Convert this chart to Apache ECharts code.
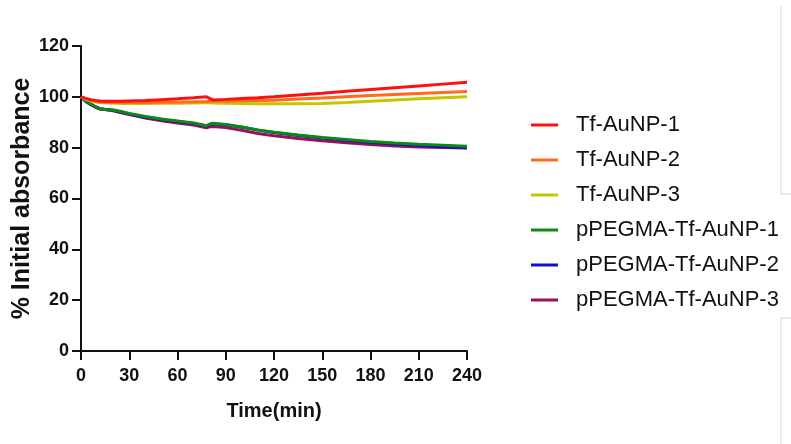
<!DOCTYPE html>
<html>
<head>
<meta charset="utf-8">
<script src="https://cdn.jsdelivr.net/npm/echarts@6/dist/echarts.min.js"></script>
<style>
  html, body { margin: 0; padding: 0; background: #fff; }
  #chart { width: 791px; height: 444px; }
</style>
</head>
<body>
<div id="chart"></div>
<script>
// time points (min)
var times = [0, 3, 6, 9, 12, 15, 20, 25, 30, 40, 50, 60, 70, 78, 80, 82, 90, 100, 110, 120, 135, 150, 165, 180, 195, 210, 225, 240];

var tfAuNP1 = [100, 99.4, 98.9, 98.6, 98.4, 98.3, 98.3, 98.3, 98.4, 98.6, 98.9, 99.2, 99.6, 100, 99.4, 98.8, 99, 99.3, 99.6, 100, 100.7, 101.4, 102.2, 102.9, 103.6, 104.3, 105, 105.7];
var tfAuNP2 = [100, 99.2, 98.6, 98.3, 98, 97.9, 97.8, 97.8, 97.8, 97.8, 97.9, 98, 98.1, 98.2, 98.3, 98.4, 98.4, 98.5, 98.6, 98.7, 99.1, 99.5, 100, 100.5, 100.9, 101.3, 101.7, 102.1];
var tfAuNP3 = [100, 99, 98.4, 98, 97.8, 97.7, 97.5, 97.4, 97.4, 97.4, 97.5, 97.5, 97.6, 97.7, 97.8, 97.6, 97.5, 97.4, 97.3, 97.3, 97.3, 97.4, 97.8, 98.3, 98.8, 99.2, 99.6, 100];
var pegma1 = [100, 98.5, 97.2, 96.2, 95.2, 95, 94.8, 94.2, 93.5, 92.3, 91.3, 90.5, 89.7, 88.6, 89.3, 89.6, 89.1, 88.1, 87, 86.1, 85, 84, 83.2, 82.4, 81.8, 81.3, 81, 80.6];
var pegma2 = [100, 98.2, 97, 96, 95.3, 95, 94.7, 94, 93.3, 92.1, 91.1, 90.3, 89.5, 88.5, 89.1, 89.4, 89, 88, 86.9, 86, 84.8, 83.8, 82.9, 82.1, 81.4, 80.9, 80.4, 80];
var pegma3 = [100, 98.3, 97, 96, 95.2, 95, 94.5, 93.7, 93, 91.7, 90.6, 89.7, 88.9, 87.8, 88.2, 88.3, 87.9, 86.8, 85.6, 84.7, 83.6, 82.7, 81.9, 81.2, 80.7, 80.3, 80.1, 79.9];

var names = ['Tf-AuNP-1', 'Tf-AuNP-2', 'Tf-AuNP-3', 'pPEGMA-Tf-AuNP-1', 'pPEGMA-Tf-AuNP-2', 'pPEGMA-Tf-AuNP-3'];
var colors = ['#ff1010', '#ff6a1c', '#c8c400', '#0d8a12', '#1010c8', '#9a0f5e'];
var values = [tfAuNP1, tfAuNP2, tfAuNP3, pegma1, pegma2, pegma3];
var zOrder = [12, 11, 10, 9, 8, 7];

var font = 'Liberation Sans, Arial, sans-serif';
var chart = echarts.init(document.getElementById('chart'));

var series = names.map(function (n, i) {
  return {
    name: n,
    type: 'line',
    symbol: 'none',
    z: zOrder[i],
    lineStyle: { width: 3, color: colors[i] },
    itemStyle: { color: colors[i] },
    data: times.map(function (t, k) { return [t, values[i][k]]; })
  };
});

var option = {
  backgroundColor: '#fff',
  animation: false,
  grid: { left: 81, right: 324, top: 46, bottom: 93 },
  legend: {
    orient: 'vertical',
    left: 526,
    top: 109,
    itemWidth: 27,
    itemHeight: 3,
    itemGap: 13,
    icon: 'rect',
    data: names,
    textStyle: {
      fontFamily: font,
      fontSize: 22,
      color: '#111',
      padding: [0, 0, 0, 13]
    }
  },
  xAxis: {
    type: 'value',
    min: 0,
    max: 240,
    interval: 30,
    name: 'Time(min)',
    nameLocation: 'middle',
    nameGap: 50,
    nameTextStyle: { fontFamily: font, fontSize: 20, fontWeight: 'bold', color: '#111' },
    axisLine: { lineStyle: { color: '#111', width: 2 } },
    axisTick: { show: true, length: 9, lineStyle: { color: '#111', width: 2 } },
    axisLabel: { margin: 16, fontFamily: font, fontSize: 18, fontWeight: 'bold', color: '#111' },
    splitLine: { show: false }
  },
  yAxis: {
    type: 'value',
    min: 0,
    max: 120,
    interval: 20,
    name: '% Initial absorbance',
    nameLocation: 'middle',
    nameRotate: 90,
    nameGap: 44,
    nameTextStyle: { fontFamily: font, fontSize: 25, fontWeight: 'bold', color: '#111' },
    axisLine: { show: true, lineStyle: { color: '#111', width: 2 } },
    axisTick: { show: true, length: 9, lineStyle: { color: '#111', width: 2 } },
    axisLabel: { margin: 12, fontFamily: font, fontSize: 18, fontWeight: 'bold', color: '#111' },
    splitLine: { show: false }
  },
  graphic: [
    { type: 'polyline', shape: { points: [[781, 6], [781, 194], [791, 194]] }, style: { stroke: '#d8d8d8', lineWidth: 1, fill: null } },
    { type: 'polyline', shape: { points: [[791, 318], [781, 318], [781, 444]] }, style: { stroke: '#d8d8d8', lineWidth: 1, fill: null } }
  ],
  series: series
};

chart.setOption(option);
</script>
</body>
</html>
